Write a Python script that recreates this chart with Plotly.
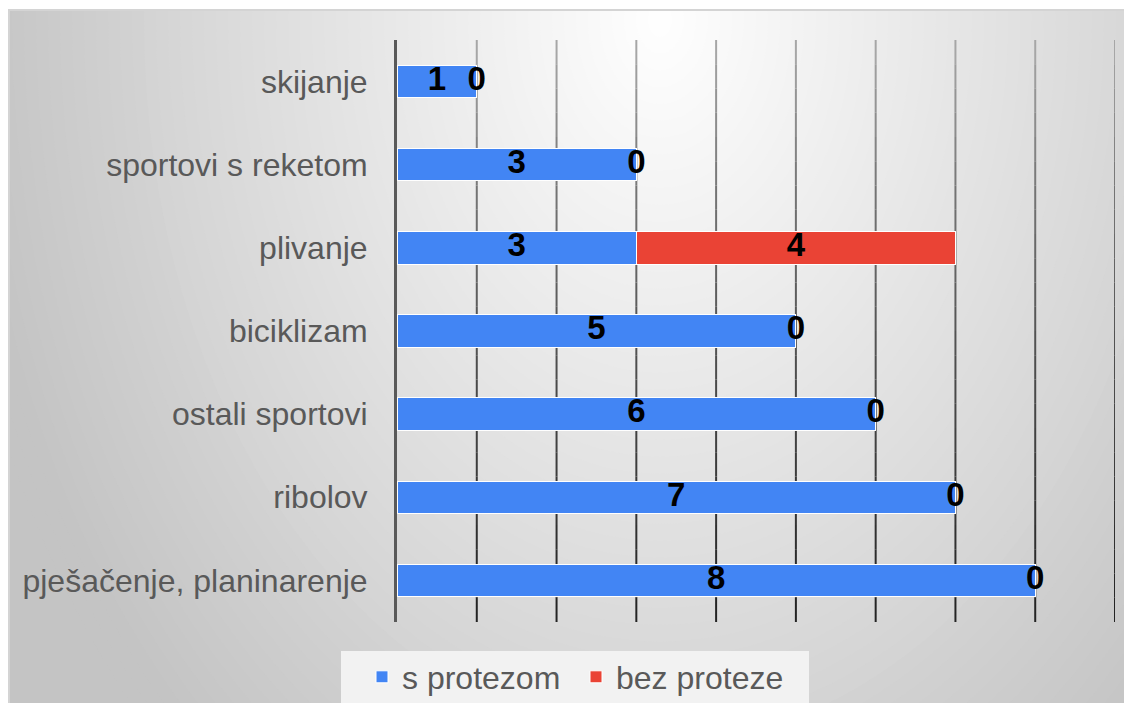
import plotly.graph_objects as go

# data (top-to-bottom as in the chart)
categories = [
    "skijanje",
    "sportovi s reketom",
    "plivanje",
    "biciklizam",
    "ostali sportovi",
    "ribolov",
    "pješačenje, planinarenje",
]
s_protezom = [1, 3, 3, 5, 6, 7, 8]
bez_proteze = [0, 0, 4, 0, 0, 0, 0]
x_ticks = list(range(0, 10))

# the page body adds an 8px margin all round; keep the page at 1132x711
OFF = 8
W, H = 1132 - 2 * OFF, 711 - 2 * OFF
L, T = 397 - OFF, 40 - OFF
R, B = W - (1115 - OFF), H - (622 - OFF)
FONT = "Liberation Sans, Arial, sans-serif"


def px_x(x):
    # page pixel -> paper x
    return (x - OFF - L) / (W - L - R)


def px_y(y):
    # page pixel -> paper y
    return (H - B - (y - OFF)) / (H - T - B)


fig = go.Figure()

fig.add_bar(
    y=categories, x=s_protezom, name="s protezom", orientation="h",
    marker=dict(color="#4285f4", line=dict(color="white", width=1)),
)
fig.add_bar(
    y=categories, x=bez_proteze, name="bez proteze", orientation="h",
    marker=dict(color="#ea4335", line=dict(color="white", width=1)),
)

# value labels, centred on each segment
lab_x, lab_y, lab_t = [], [], []
for cat, a, b in zip(categories, s_protezom, bez_proteze):
    lab_x += [a / 2, a + b / 2]
    lab_y += [cat, cat]
    lab_t += [str(a), str(b)]
fig.add_scatter(
    x=lab_x, y=lab_y, text=lab_t, mode="text", showlegend=False,
    textfont=dict(family=FONT, size=33, color="black", weight="bold"),
    textposition="middle center", hoverinfo="skip",
)

shapes = []
# background gradient: base + nested ellipses
shapes.append(dict(type="rect", xref="paper", yref="paper", layer="below",
                   x0=px_x(-20), x1=px_x(1160), y0=px_y(740), y1=px_y(-20),
                   fillcolor="#c4c4c4", line=dict(width=0)))
cx, cy = 660, 20
r = 720
while r > 0:
    g = int(round(255 - 59 * min(r / 700, 1)))
    shapes.append(dict(type="circle", xref="paper", yref="paper", layer="below",
                       x0=px_x(cx - r), x1=px_x(cx + r),
                       y0=px_y(cy + 1.4 * r), y1=px_y(cy - 1.4 * r),
                       fillcolor=f"rgb({g},{g},{g})", line=dict(width=0)))
    r -= 12
# white top strip and frame border
shapes.append(dict(type="rect", xref="paper", yref="paper", layer="below",
                   x0=px_x(-20), x1=px_x(1160), y0=px_y(10), y1=px_y(-20),
                   fillcolor="white", line=dict(width=0)))
shapes.append(dict(type="rect", xref="paper", yref="paper", layer="below",
                   x0=px_x(9), x1=px_x(1160), y0=px_y(740), y1=px_y(10),
                   fillcolor="rgba(0,0,0,0)", line=dict(color="#d4d4d4", width=2)))
# legend box
shapes.append(dict(type="rect", xref="paper", yref="paper", layer="below",
                   x0=px_x(341), x1=px_x(809), y0=px_y(703), y1=px_y(651),
                   fillcolor="#f2f2f2", line=dict(width=0)))

# vertical gridlines, lighter towards the top
anchors = [(0.0, 170), (0.25, 118), (0.55, 78), (1.0, 34)]


def grid_grey(f):
    for (f0, g0), (f1, g1) in zip(anchors, anchors[1:]):
        if f <= f1:
            return g0 + (g1 - g0) * (f - f0) / (f1 - f0)
    return anchors[-1][1]


nseg = 24
for xv in x_ticks[1:]:
    for k in range(nseg):
        f = (k + 0.5) / nseg
        g = int(round(grid_grey(f)))
        shapes.append(dict(type="line", xref="x", yref="paper", layer="below",
                           x0=xv, x1=xv, y0=1 - k / nseg, y1=1 - (k + 1) / nseg,
                           line=dict(color=f"rgb({g},{g},{g})", width=2)))

fig.update_layout(
    width=W, height=H,
    margin=dict(l=L, r=R, t=T, b=B, pad=0, autoexpand=False),
    barmode="stack", bargap=0.61,
    paper_bgcolor="white", plot_bgcolor="rgba(0,0,0,0)",
    font=dict(family=FONT, size=32, color="#595959"),
    shapes=shapes,
    showlegend=True,
    legend=dict(
        orientation="h", x=px_x(362), xanchor="left",
        y=px_y(677), yanchor="middle",
        bgcolor="rgba(0,0,0,0)", font=dict(size=32, color="#595959"),
        traceorder="normal", entrywidth=169, itemwidth=30,
    ),
    xaxis=dict(range=[0, 9], tickvals=x_ticks, showgrid=False,
               showticklabels=False, zeroline=False, fixedrange=True),
    yaxis=dict(autorange="reversed", showgrid=False, showline=True,
               linecolor="#595959", linewidth=3, ticks="",
               ticklabelstandoff=20, tickfont=dict(size=32, color="#595959")),
)

fig.write_html("out.html")
